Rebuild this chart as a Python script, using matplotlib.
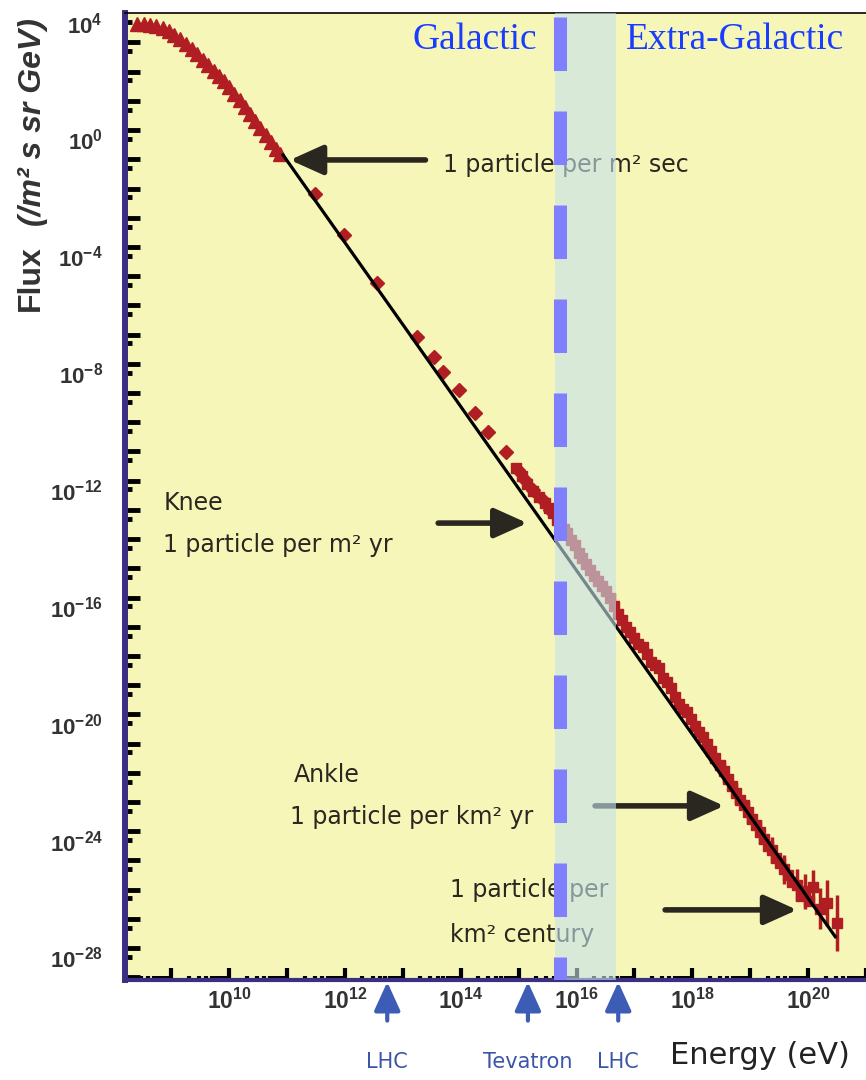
import numpy as np
import matplotlib
matplotlib.use('Agg')
import matplotlib.pyplot as plt

plt.rcParams['mathtext.fontset'] = 'custom'
plt.rcParams['mathtext.rm'] = 'Liberation Sans'
plt.rcParams['mathtext.bf'] = 'Liberation Sans:bold'
plt.rcParams['mathtext.it'] = 'Liberation Sans:italic'

#%% data (log10 E [eV], log10 flux)
# low energy spectrum (triangles)
tri_logE = [8.40, 8.52, 8.63, 8.74, 8.86, 8.96, 9.05, 9.15, 9.25, 9.35, 9.45, 9.55,
            9.64, 9.73, 9.82, 9.91, 10.00, 10.09, 10.18, 10.27, 10.36, 10.45, 10.54,
            10.63, 10.72, 10.80, 10.88]
tri_logF = [3.92, 3.95, 3.90, 3.88, 3.80, 3.68, 3.57, 3.43, 3.25, 3.07, 2.90, 2.70,
            2.52, 2.33, 2.16, 1.98, 1.78, 1.55, 1.32, 1.08, 0.85, 0.60, 0.37,
            0.12, -0.12, -0.33, -0.50]

# direct measurements (diamonds)
dia_logE = [11.49, 11.99, 12.56, 13.25, 13.54, 13.70, 13.97, 14.25, 14.47, 14.78,
            14.99, 15.11, 15.25, 15.42, 15.54]
dia_logF = [-1.89, -3.29, -4.93, -6.78, -7.46, -7.98, -8.59, -9.38, -10.03, -10.72,
            -11.33, -11.67, -12.02, -12.36, -12.70]

# air shower data (dense band)
hi_logE = [14.95, 15.05, 15.15, 15.25, 15.35, 15.45, 15.52,
           15.60, 15.66, 15.72, 15.78, 15.84, 15.90, 15.97, 16.04, 16.10, 16.17,
           16.23, 16.30, 16.37, 16.44, 16.51, 16.58, 16.65, 16.72, 16.79, 16.86,
           16.93, 17.00, 17.07, 17.14, 17.21, 17.28, 17.35, 17.42, 17.49, 17.56,
           17.63, 17.70, 17.77, 17.84, 17.91, 17.98, 18.05, 18.12, 18.19, 18.26,
           18.33, 18.40, 18.47, 18.54, 18.61, 18.68, 18.75, 18.82, 18.89, 18.96,
           19.03, 19.10, 19.17, 19.24, 19.31, 19.38, 19.45, 19.52, 19.59, 19.66,
           19.73, 19.80, 19.87, 19.94, 20.01, 20.08, 20.20, 20.33, 20.50]
hi_logF = [-11.25, -11.55, -11.80, -12.05, -12.25, -12.45, -12.62,
           -12.80, -13.05, -13.20, -13.35, -13.50, -13.72, -13.90, -14.18, -14.35, -14.55,
           -14.76, -14.95, -15.12, -15.30, -15.48, -15.70, -15.98, -16.25, -16.48, -16.70,
           -16.88, -17.10, -17.28, -17.40, -17.62, -17.90, -18.02, -18.12, -18.45, -18.58,
           -18.80, -19.10, -19.35, -19.52, -19.62, -19.85, -20.08, -20.30, -20.48, -20.70,
           -20.95, -21.20, -21.42, -21.65, -21.90, -22.15, -22.40, -22.62, -22.80, -23.05,
           -23.28, -23.50, -23.72, -23.95, -24.20, -24.35, -24.60, -24.80, -25.00, -25.20,
           -25.45, -25.55, -25.90, -25.75, -26.10, -25.62, -26.35, -26.15, -26.84]
# error bars (decades) for the highest points
err_logE = [18.54, 18.75, 18.96, 19.17, 19.38, 19.59, 19.80, 19.94, 20.08, 20.20, 20.33, 20.50]
err_logF = [-21.65, -22.40, -23.05, -23.72, -24.35, -25.00, -25.55, -25.75, -25.62, -26.35, -26.15, -26.84]
err_dec = [0.35, 0.35, 0.4, 0.4, 0.45, 0.5, 0.55, 0.6, 0.6, 0.7, 0.8, 0.95]

# power law guide line
line_logE = [10.93, 20.47]
line_logF = [-0.55, -27.31]

# galactic / extragalactic transition
trans_logE = 15.72
band_logE = [15.63, 16.69]

# accelerators
acc_names = ['LHC', 'Tevatron', 'LHC']
acc_logE = [12.73, 15.16, 16.72]

ytick_exp = np.arange(-28, 5, 4)
xtick_exp = np.arange(10, 21, 2)

#%% plot
ann_font = 'DejaVu Sans'
ink = '#2a2620'
red = '#b01e23'

fig = plt.figure(figsize=(8.66, 10.8), dpi=100)
ax = fig.add_axes([125/866, 100/1080, 741/866, 967/1080])
ax.set_facecolor('#f6f6b8')
ax.set_xscale('log')
ax.set_yscale('log')

p = lambda a: 10**np.asarray(a, dtype=float)

ax.plot(p(tri_logE), p(tri_logF), '^', color=red, ms=10, mec=red, zorder=2)
ax.plot(p(dia_logE), p(dia_logF), 'D', color=red, ms=7.5, mec=red, zorder=2)
ax.plot(p(hi_logE), p(hi_logF), 's', color=red, ms=6.5, mec=red, zorder=2)
F = p(err_logF)
d = np.asarray(err_dec)
ax.errorbar(p(err_logE), F, yerr=[F - F*10**(-d), F*10**d - F], fmt='none',
            ecolor=red, elinewidth=2.5, zorder=2)

ax.plot(p(line_logE), p(line_logF), color='black', lw=2.3, zorder=3)

# shaded transition band and dashed boundary
ax.axvspan(p(band_logE[0]), p(band_logE[1]), color='#c5e3ed', alpha=0.6, lw=0, zorder=5)
ax.plot([p(trans_logE)]*2, [10**4.17, 10**-28.79], color='#8080ff', lw=9.4,
        ls=(0, (4.1, 3.1)), zorder=6, solid_capstyle='butt', dash_capstyle='butt')

ax.text(p(14.25), p(3.38), 'Galactic', color='#1a3cff', family='Liberation Serif',
        size=27, ha='center', va='center', zorder=7)
ax.text(p(18.74), p(3.38), 'Extra-Galactic', color='#1a3cff', family='Liberation Serif',
        size=27, ha='center', va='center', zorder=7)

# annotations
texts = [
    (13.70, -0.89, '1 particle per m² sec'),
    (8.86, -12.46, 'Knee'),
    (8.86, -13.90, '1 particle per m² yr'),
    (11.11, -21.77, 'Ankle'),
    (11.05, -23.21, '1 particle per km² yr'),
    (13.82, -25.71, '1 particle per'),
    (13.82, -27.25, 'km² century'),
]
for x, y, s in texts:
    ax.text(p(x), p(y), s, family=ann_font, size=17, color=ink, ha='left', va='center', zorder=4)

arrows = [((13.39, -0.72), (11.05, -0.72)),
          ((13.61, -13.15), (15.15, -13.15)),
          ((16.32, -22.83), (18.55, -22.83)),
          ((17.53, -26.39), (19.81, -26.39))]
for (x0, y0), (x1, y1) in arrows:
    ax.annotate('', xy=(p(x1), p(y1)), xytext=(p(x0), p(y0)), zorder=4,
                arrowprops=dict(arrowstyle='-|>,head_length=1.0,head_width=0.45',
                                color=ink, lw=4, shrinkA=0, shrinkB=0, mutation_scale=20))

# accelerator arrows below the axis
tr = ax.get_xaxis_transform()
for name, e in zip(acc_names, acc_logE):
    ax.annotate('', xy=(p(e), -0.002), xytext=(p(e), -0.042), xycoords=tr, textcoords=tr,
                annotation_clip=False,
                arrowprops=dict(arrowstyle='-|>,head_length=1.1,head_width=0.5',
                                color='#3d5cb5', lw=3, shrinkA=0, shrinkB=0, mutation_scale=16))
    ax.text(p(e), -0.085, name, transform=tr, ha='center', va='center',
            family=ann_font, size=15, color='#3d55a8')

fig.text(760/866, 1 - 1055/1080, 'Energy (eV)', family=ann_font, size=22,
         color='#222222', ha='center', va='center')
fig.text(31/866, 1 - 278/1080, 'Flux', rotation=90, family='Liberation Sans',
         weight='bold', size=23, color='#333333', ha='center', va='center')
fig.text(33/866, 1 - 122/1080, '(/m² s sr GeV)', rotation=90, family='Liberation Sans',
         weight='bold', style='italic', size=23, color='#333333', ha='center', va='center')

# ticks
ax.set_yticks(p(np.arange(-28, 5)))
ax.set_yticklabels([r'$\mathbf{10^{%d}}$' % e if e in ytick_exp else '' for e in range(-28, 5)])
ax.set_yticks(2*p(np.arange(-29, 4)), minor=True)
ax.set_xticks(p(np.arange(9, 22)))
ax.set_xticklabels([r'$\mathbf{10^{%d}}$' % e if e in xtick_exp else '' for e in range(9, 22)])
ax.set_xticks([m*10.0**e for e in range(8, 21) for m in range(2, 10)], minor=True)
ax.tick_params(axis='y', which='major', direction='in', length=5, width=3.5,
               labelsize=16, labelcolor='#333333', pad=16)
ax.tick_params(axis='y', which='minor', direction='in', length=11, width=3.5)
ax.tick_params(axis='x', which='major', direction='in', length=9, width=3,
               labelsize=16.5, labelcolor='#333333', pad=6)
ax.tick_params(axis='x', which='minor', direction='in', length=3, width=3)
ax.set_ylim(10**-28.79, 10**4.31)
ax.set_xlim(10**8.2, 10**21.0)

for s in ['left', 'bottom']:
    ax.spines[s].set_color('#3b2f82')
ax.spines['left'].set_linewidth(4.3)
ax.spines['bottom'].set_linewidth(3)
ax.spines['top'].set_linewidth(1.2)
ax.spines['right'].set_visible(False)

fig.savefig('out.png', dpi=100)
